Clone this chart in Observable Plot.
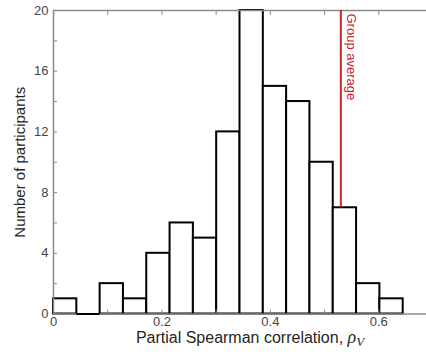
<!DOCTYPE html>
<html>
<head>
<meta charset="utf-8">
<script src="https://cdn.jsdelivr.net/npm/d3@7"></script>
<script src="https://cdn.jsdelivr.net/npm/@observablehq/plot@0.6"></script>
<style>
  html, body { margin: 0; padding: 0; background: white; }
</style>
</head>
<body>
<div id="chart"></div>
<script>
// Histogram bin edges (partial Spearman correlation)
const binEdges = [0, 0.043, 0.086, 0.129, 0.172, 0.215, 0.258, 0.301, 0.344, 0.387, 0.430, 0.473, 0.516, 0.559, 0.602, 0.645];
// Number of participants per bin
const counts = [1, 0, 2, 1, 4, 6, 5, 12, 20, 15, 14, 10, 7, 2, 1];
// Group average of rho_V
const groupAverage = 0.53;
const groupLabel = "Group average";
// Axis ticks
const xTickLabels = [0, 0.2, 0.4, 0.6];
const xTickMarks = [0, 0.1, 0.2, 0.3, 0.4, 0.5, 0.6];
const yTickLabels = [0, 4, 8, 12, 16, 20];
const yTickMarks = [0, 2, 4, 6, 8, 10, 12, 14, 16, 18, 20];
const yTitle = "Number of participants";
const xTitle = "Partial Spearman correlation, ";

const bins = counts.map((c, i) => ({x1: binEdges[i], x2: binEdges[i + 1], count: c}));
const emptyBins = bins.filter(d => d.count === 0);
const avgBin = bins.find(d => d.x1 <= groupAverage && groupAverage < d.x2);

const axisGray = "#8a8a8a";
const red = "#c8262c";

const chart = Plot.plot({
  width: 426,
  height: 358,
  marginLeft: 53,
  marginRight: 0,
  marginTop: 10,
  marginBottom: 44.5,
  x: {domain: [0, 0.688]},
  y: {domain: [0, 20]},
  style: {fontFamily: "'Liberation Sans', Arial, sans-serif", fontSize: "13px", color: "#333", background: "white"},
  marks: [
    Plot.rectY(bins, {x1: "x1", x2: "x2", y: "count", inset: 0, fill: "white", stroke: "black", strokeWidth: 2}),
    Plot.ruleY([0, 20], {stroke: axisGray, strokeWidth: 1.5}),
    Plot.ruleX([0], {stroke: axisGray, strokeWidth: 1.5}),
    Plot.ruleY(emptyBins, {x1: "x1", x2: "x2", y: 0, stroke: "black", strokeWidth: 2}),
    Plot.ruleX([groupAverage], {y1: avgBin.count, y2: 20, stroke: red, strokeWidth: 2}),
    Plot.text([groupLabel], {x: groupAverage, y: 20, rotate: 90, textAnchor: "start", lineAnchor: "bottom", dx: 6, dy: 3, fill: red, fontSize: 13}),
    // inward tick marks
    Plot.axisX(xTickMarks, {anchor: "bottom", tickSize: 4, dy: -4, tickFormat: () => "", label: null, stroke: axisGray}),
    Plot.axisX(xTickMarks, {anchor: "top", tickSize: 4, dy: 4, tickFormat: () => "", label: null, stroke: axisGray}),
    Plot.axisY(yTickMarks, {anchor: "left", tickSize: 4, dx: 4, tickFormat: () => "", label: null, stroke: axisGray}),
    // tick labels
    Plot.axisX(xTickLabels, {anchor: "bottom", tickSize: 0, tickPadding: 3, label: null, fontSize: 13, fill: "#444", tickFormat: d => d === 0 ? "0" : d3.format(".1f")(d)}),
    Plot.axisY(yTickLabels, {anchor: "left", tickSize: 0, tickPadding: 5, label: null, fontSize: 13, fill: "#444"}),
    // y title
    Plot.text([yTitle], {frameAnchor: "left", dx: -29, rotate: -90, textAnchor: "middle", lineAnchor: "bottom", fontSize: 15, fill: "#262626"})
  ]
});

document.getElementById("chart").appendChild(chart);

// x title with italic rho and subscript V
const t = d3.select(chart).append("text")
  .attr("x", 250)
  .attr("y", 343)
  .attr("text-anchor", "middle")
  .attr("fill", "#262626")
  .attr("font-size", 16)
  .attr("font-family", "'Liberation Sans', Arial, sans-serif");
t.append("tspan").text(xTitle);
t.append("tspan").attr("font-family", "'Liberation Serif', 'Times New Roman', serif").attr("font-style", "italic").attr("font-size", 18).text("ρ");
t.append("tspan").attr("font-family", "'Liberation Serif', 'Times New Roman', serif").attr("font-style", "italic").attr("font-size", 13).attr("dy", 3).text("V");
</script>
</body>
</html>
